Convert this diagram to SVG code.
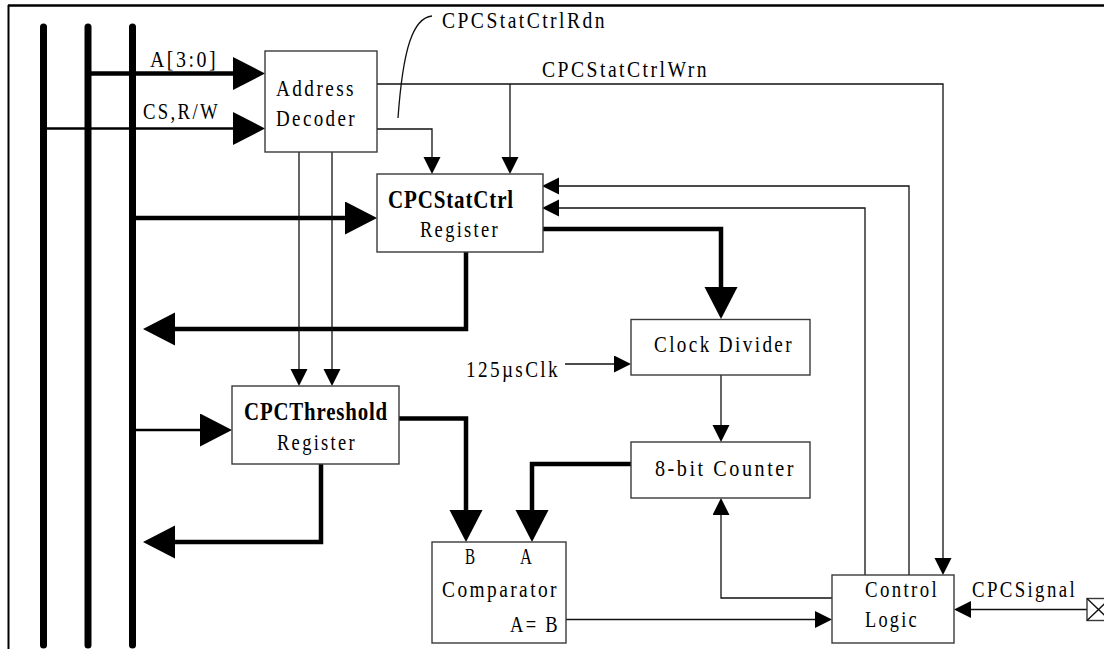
<svg xmlns="http://www.w3.org/2000/svg" width="1104" height="649" viewBox="0 0 1104 649">
<style>
  .box { fill: #ffffff; stroke: #3a3a3a; stroke-width: 1.4; }
  .t { font-family: "Liberation Serif", "Times New Roman", serif; font-size: 24px; letter-spacing: 3px; fill: #000; }
  .b { font-weight: bold; font-size: 25px; letter-spacing: 1px; }
  .bus { stroke: #000; stroke-width: 7; stroke-linecap: round; fill: none; }
  .thin { stroke: #111; stroke-width: 1.3; fill: none; }
  .mid { stroke: #000; stroke-width: 2.5; fill: none; }
  .thick { stroke: #000; stroke-width: 4.5; fill: none; }
  .big { marker-end: url(#bigArrow); }
  .sm { marker-end: url(#smallArrow); }
</style>
<defs>
  <marker id="bigArrow" markerUnits="userSpaceOnUse" markerWidth="33" markerHeight="34" viewBox="0 0 33 34" refX="0" refY="16.5" orient="auto">
    <path d="M0,0 L32,16.5 L0,33 Z" fill="#000"/>
  </marker>
  <marker id="smallArrow" markerUnits="userSpaceOnUse" markerWidth="18" markerHeight="18" viewBox="0 0 18 18" refX="0" refY="8.5" orient="auto">
    <path d="M0,0 L17,8.5 L0,17 Z" fill="#000"/>
  </marker>
</defs>
<rect width="1104" height="649" fill="#ffffff"/>

<g id="frame">
  <line x1="8" y1="5.5" x2="1104" y2="5.5" stroke="#000" stroke-width="2.6"/>
  <line x1="8.5" y1="5" x2="8.5" y2="649" stroke="#000" stroke-width="2"/>
</g>

<g id="buses">
  <line class="bus" x1="43.5" y1="27" x2="43.5" y2="645"/>
  <line class="bus" x1="88" y1="27" x2="88" y2="645"/>
  <line class="bus" x1="132.5" y1="27" x2="132.5" y2="645"/>
</g>

<g id="connectors">
  <path class="thick big" d="M88,73.5 H233"/>
  <path class="mid big" d="M43.5,128.5 H233"/>
  <path class="thin sm" d="M377,84 H943 V558"/>
  <path class="thin sm" d="M510,84 V157"/>
  <path class="thin sm" d="M377,129 H432 V157"/>
  <path class="thin" d="M432,16 C413,18 403,48 398,118"/>
  <path class="thick big" d="M132.5,218 H345"/>
  <path class="thin sm" d="M909,575 V186 H559"/>
  <path class="thin sm" d="M865,575 V208 H559"/>
  <path class="thick big" d="M543,229 H721 V287"/>
  <path class="thick big" d="M466,252 V329 H175"/>
  <path class="thin sm" d="M299,152 V369"/>
  <path class="thin sm" d="M332,152 V369"/>
  <path class="mid big" d="M132.5,430 H200"/>
  <path class="thick big" d="M399,418.5 H466 V510"/>
  <path class="thick big" d="M321,464 V542 H175"/>
  <path class="thin sm" d="M565,364 H614"/>
  <path class="thin sm" d="M721,375 V425"/>
  <path class="thick big" d="M632,464 H532 V510"/>
  <path class="thin sm" d="M832,598 H721 V515"/>
  <path class="thin sm" d="M566,619.5 H815"/>
  <path class="thin sm" d="M1087,609.5 H971"/>
</g>

<g id="labels">
  <text class="t" x="150" y="67" textLength="68" lengthAdjust="spacingAndGlyphs">A[3:0]</text>
  <text class="t" x="143" y="119" textLength="77" lengthAdjust="spacingAndGlyphs">CS,R/W</text>
  <text class="t" x="442" y="28" textLength="165" lengthAdjust="spacingAndGlyphs">CPCStatCtrlRdn</text>
  <text class="t" x="542" y="77" textLength="167" lengthAdjust="spacingAndGlyphs">CPCStatCtrlWrn</text>
  <text class="t" x="466" y="377" textLength="94" lengthAdjust="spacingAndGlyphs">125µsClk</text>
  <text class="t" x="972" y="597" textLength="105" lengthAdjust="spacingAndGlyphs">CPCSignal</text>
</g>

<g id="address-decoder">
  <rect class="box" x="265" y="51" width="112" height="101"/>
  <text class="t" x="276" y="96" textLength="80" lengthAdjust="spacingAndGlyphs">Address</text>
  <text class="t" x="276" y="126" textLength="81" lengthAdjust="spacingAndGlyphs">Decoder</text>
</g>

<g id="cpcstatctrl-register">
  <rect class="box" x="377" y="174" width="166" height="78"/>
  <text class="t b" x="388" y="208" textLength="126" lengthAdjust="spacingAndGlyphs">CPCStatCtrl</text>
  <text class="t" x="420" y="237" textLength="80" lengthAdjust="spacingAndGlyphs">Register</text>
</g>

<g id="cpcthreshold-register">
  <rect class="box" x="232" y="386" width="167" height="78"/>
  <text class="t b" x="244" y="420" textLength="144" lengthAdjust="spacingAndGlyphs">CPCThreshold</text>
  <text class="t" x="277" y="450" textLength="80" lengthAdjust="spacingAndGlyphs">Register</text>
</g>

<g id="clock-divider">
  <rect class="box" x="631" y="319.5" width="179" height="55.5"/>
  <text class="t" x="654" y="352" textLength="140" lengthAdjust="spacingAndGlyphs">Clock Divider</text>
</g>

<g id="counter">
  <rect class="box" x="631" y="442" width="179" height="56"/>
  <text class="t" x="655" y="476" textLength="141" lengthAdjust="spacingAndGlyphs">8-bit Counter</text>
</g>

<g id="comparator">
  <rect class="box" x="432" y="542" width="134" height="101"/>
  <text class="t" x="465" y="564" textLength="12" lengthAdjust="spacingAndGlyphs">B</text>
  <text class="t" x="520" y="564" textLength="14" lengthAdjust="spacingAndGlyphs">A</text>
  <text class="t" x="442" y="597" textLength="117" lengthAdjust="spacingAndGlyphs">Comparator</text>
  <text class="t" x="510" y="632" textLength="50" lengthAdjust="spacingAndGlyphs">A= B</text>
</g>

<g id="control-logic">
  <rect class="box" x="832" y="575" width="122" height="68"/>
  <text class="t" x="865" y="597" textLength="74" lengthAdjust="spacingAndGlyphs">Control</text>
  <text class="t" x="865" y="627" textLength="54" lengthAdjust="spacingAndGlyphs">Logic</text>
</g>

<g id="cpcsignal-pad">
  <rect class="box" x="1087" y="598.5" width="23" height="22"/>
  <line class="thin" x1="1087" y1="598.5" x2="1110" y2="620.5"/>
  <line class="thin" x1="1087" y1="620.5" x2="1110" y2="598.5"/>
</g>
</svg>
